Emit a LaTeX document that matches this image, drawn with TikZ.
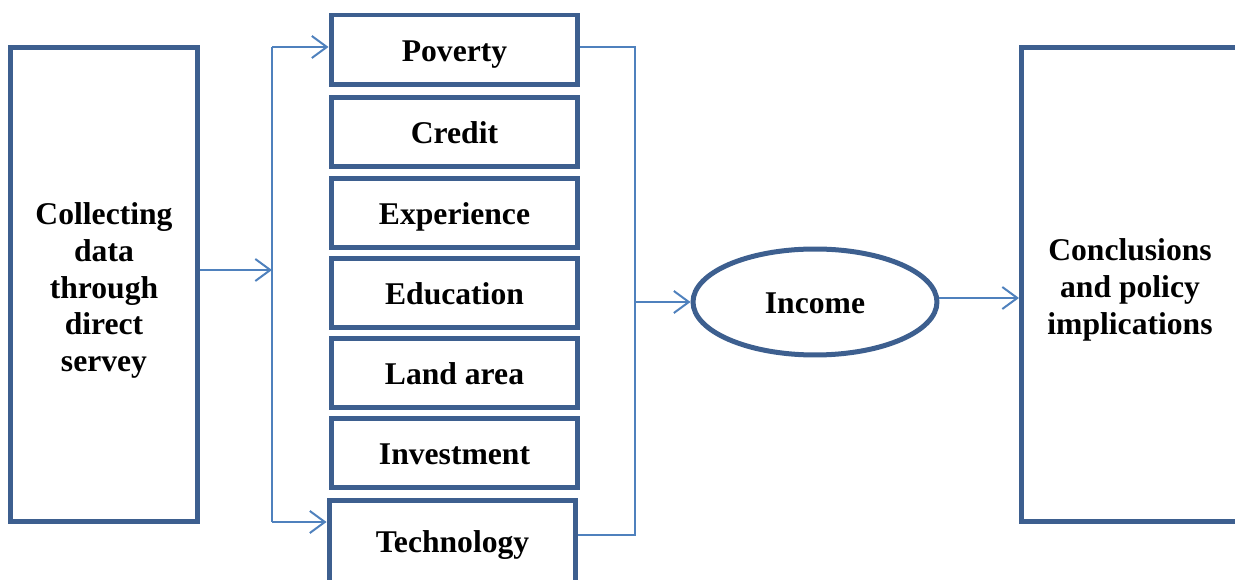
\documentclass[tikz,border=0pt]{standalone}
\usepackage{fontspec}
\setmainfont{Liberation Serif}
\usetikzlibrary{arrows.meta,shapes.geometric}
\definecolor{boxblue}{RGB}{61,95,143}
\definecolor{lineblue}{RGB}{79,129,189}
\tikzset{
  bigbox/.style={draw=boxblue,line width=0.1cm,inner sep=0pt},
  label18/.style={font=\fontsize{18}{21}\selectfont\bfseries,align=center,inner sep=0pt},
  fixtext/.style={text height=16pt,text depth=2.6pt},
  factor/.style={draw=boxblue,line width=0.1cm,minimum width=4.94cm,minimum height=1.4cm,inner sep=0pt,font=\fontsize{18}{21}\selectfont\bfseries,fixtext},
  link/.style={draw=lineblue,line width=0.04cm},
  arr/.style={link,-{Straight Barb[length=0.3cm,width=0.44cm,line width=0.04cm]}}
}
\begin{document}
\begin{tikzpicture}[x=0.02cm,y=-0.02cm]
\useasboundingbox (0,0) rectangle (1235,580);
% left box
\node[bigbox,minimum width=3.76cm,minimum height=9.5cm] (collect) at (104,284.5) {};
\node[label18] (collectlbl) at (104,290.5) {Collecting\\data\\through\\direct\\servey};
% factor boxes
\node[factor] (pov) at (454.5,50) {Poverty};
\node[factor] (cre) at (454.5,132) {Credit};
\node[factor] (exp) at (454.5,213) {Experience};
\node[factor] (edu) at (454.5,293) {Education};
\node[factor] (land) at (454.5,373) {Land area};
\node[factor] (inv) at (454.5,453) {Investment};
\node[factor,minimum height=1.9cm] (tech) at (452.5,548) {};
\node[label18,fixtext] (techlbl) at (452.5,541) {Technology};
% ellipse
\node[ellipse,draw=boxblue,line width=0.1cm,minimum width=4.88cm,minimum height=2.12cm,inner sep=0pt,font=\fontsize{18}{21}\selectfont\bfseries,fixtext] (inc) at (815,302) {Income};
% right box
\node[bigbox,minimum width=4.5cm,minimum height=9.5cm,anchor=west] (concl) at (1019,284.5) {};
\node[label18] (concllbl) at (1130,290) {Conclusions\\and policy\\implications};
% left connector
\coordinate (lsplit) at (272,270);
\coordinate (ltop) at (272,47);
\coordinate (lbot) at (272,522);
\coordinate (ptop) at (pov.west |- ltop);
\coordinate (tbot) at (tech.west |- lbot);
\draw[arr] (collect.east |- lsplit) -- (lsplit);
\draw[link] (ltop) -- (lbot);
\draw[arr] (ltop) -- (ptop);
\draw[arr] (lbot) -- (tbot);
% right connector
\coordinate (rtop) at (635,47);
\coordinate (rbot) at (635,535);
\coordinate (rmid) at (635,302);
\draw[link] (pov.east |- rtop) -- (rtop) -- (rbot) -- (tech.east |- rbot);
\draw[arr] (rmid) -- (inc.west);
\coordinate (outy) at (0,298);
\draw[arr] (inc.east |- outy) -- (concl.west |- outy);
\end{tikzpicture}
\end{document}
